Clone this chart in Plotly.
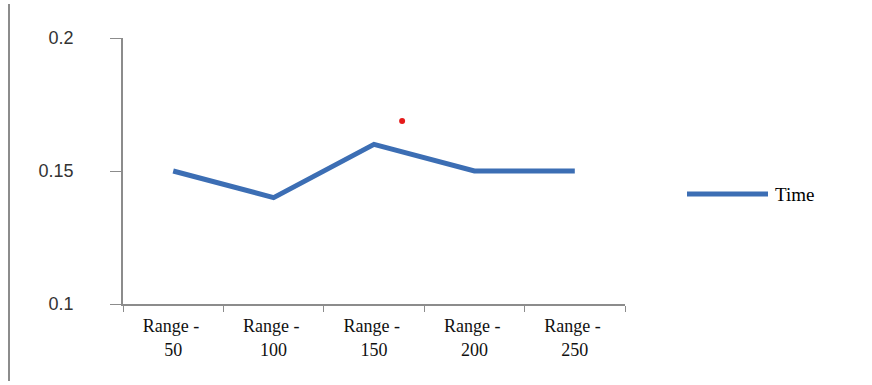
import plotly.graph_objects as go

categories = ["Range - <br>50", "Range - <br>100", "Range - <br>150", "Range - <br>200", "Range - <br>250"]
time_values = [0.15, 0.14, 0.16, 0.15, 0.15]
series_name = "Time"
y_ticks = [0.1, 0.15, 0.2]
y_tick_labels = ["0.1", "0.15", "0.2"]
dot_x = [2.28]
dot_y = [0.1688]

W, H = 872, 385
ml, mr, mt, mb = 123, 247, 38, 81
pw = W - ml - mr
ph = H - mt - mb

blue = "#3C6EB4"
axis_col = "#8C8C8C"

fig = go.Figure()
fig.add_trace(go.Scatter(
    x=categories, y=time_values, mode="lines", name=series_name,
    line=dict(color=blue, width=5), showlegend=False,
))
fig.add_trace(go.Scatter(
    x=dot_x, y=dot_y, mode="markers", xaxis="x2", showlegend=False,
    marker=dict(color="#E51A1A", size=6),
))

def px_x(p):
    return (p - ml) / pw

def px_y(p):
    return 1 - (p - mt) / ph

shapes = [
    # outer left border line
    dict(type="line", xref="paper", yref="paper",
         x0=px_x(9), x1=px_x(9), y0=px_y(4), y1=px_y(381),
         line=dict(color="#8C8C8C", width=2)),
    # legend line
    dict(type="line", xref="paper", yref="paper",
         x0=px_x(687), x1=px_x(768), y0=px_y(194), y1=px_y(194),
         line=dict(color=blue, width=5)),
]
annotations = [
    dict(xref="paper", yref="paper", x=px_x(773), y=px_y(194), text=series_name,
         showarrow=False, xanchor="left", yanchor="middle",
         font=dict(family="Liberation Serif", size=19, color="#000")),
]

fig.update_layout(
    width=W, height=H,
    margin=dict(l=ml, r=mr, t=mt, b=mb),
    paper_bgcolor="white", plot_bgcolor="white",
    shapes=shapes, annotations=annotations,
    xaxis=dict(
        type="category", range=[-0.5, 4.5],
        showline=True, linecolor=axis_col, linewidth=1.5,
        ticks="outside", tickson="boundaries", ticklen=6, tickcolor=axis_col,
        showgrid=False, zeroline=False, ticklabelstandoff=5,
        tickfont=dict(family="Liberation Serif", size=18, color="#111"),
    ),
    xaxis2=dict(
        overlaying="x", range=[-0.5, 4.5], visible=False,
    ),
    yaxis=dict(
        range=[0.1, 0.2], tickvals=y_ticks, ticktext=y_tick_labels,
        showline=True, linecolor=axis_col, linewidth=1.5,
        ticks="outside", ticklen=11, tickcolor=axis_col,
        showgrid=False, zeroline=False, ticklabelstandoff=33,
        tickfont=dict(family="Liberation Sans", size=18, color="#333"),
    ),
)

fig.write_html("out.html")
